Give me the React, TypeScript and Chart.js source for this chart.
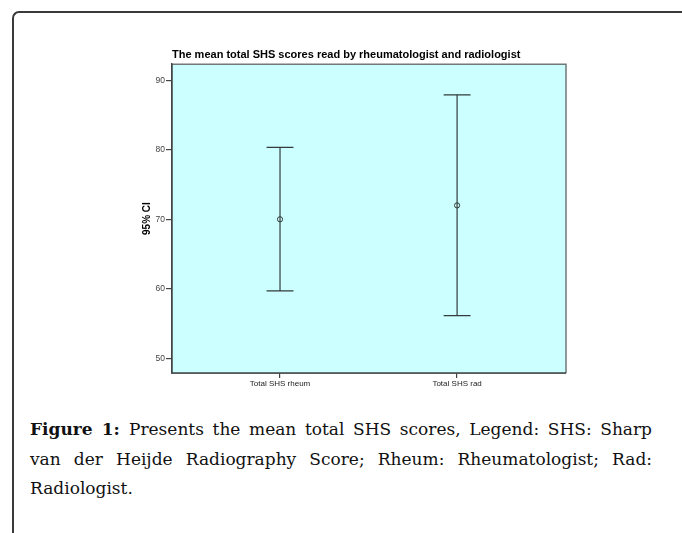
import React, { useEffect, useRef } from "react";
import { Chart, registerables } from "chart.js";

Chart.register(...registerables);

const chartTitle = "The mean total SHS scores read by rheumatologist and radiologist";
const yAxisTitle = "95% CI";
const categories = ["Total SHS rheum", "Total SHS rad"];
const means = [70.0, 72.0];
const lowerCI = [59.7, 56.15];
const upperCI = [80.35, 87.9];
const yTicks = [50, 60, 70, 80, 90];
const yMin = 47.9;
const yMax = 92.3;
const xMin = 0.39;
const xMax = 2.615;
const capHalf = 0.076;

const captionLines = [
  "Presents the mean total SHS scores, Legend: SHS: Sharp",
  "van der Heijde Radiography Score; Rheum: Rheumatologist; Rad:",
  "Radiologist.",
];

const BAR_COLOR = "#333b3b";

const plotFrame = {
  id: "plotFrame",
  beforeDatasetsDraw(chart: any) {
    const { ctx, chartArea } = chart;
    ctx.save();
    ctx.fillStyle = "#ccffff";
    ctx.fillRect(chartArea.left, chartArea.top, chartArea.right - chartArea.left, chartArea.bottom - chartArea.top);
    ctx.restore();
  },
  afterDraw(chart: any) {
    const { ctx, chartArea } = chart;
    ctx.save();
    ctx.strokeStyle = "#707878";
    ctx.lineWidth = 1.5;
    ctx.beginPath();
    ctx.moveTo(chartArea.left, chartArea.top);
    ctx.lineTo(chartArea.right, chartArea.top);
    ctx.lineTo(chartArea.right, chartArea.bottom);
    ctx.stroke();
    ctx.strokeStyle = "#404444";
    ctx.beginPath();
    ctx.moveTo(chartArea.left, chartArea.top);
    ctx.lineTo(chartArea.left, chartArea.bottom);
    ctx.lineTo(chartArea.right, chartArea.bottom);
    ctx.stroke();
    ctx.restore();
  },
};

export default function App() {
  const ref = useRef<HTMLCanvasElement | null>(null);

  useEffect(() => {
    if (!ref.current) return;
    const datasets: any[] = [];
    categories.forEach((_, i) => {
      const x = i + 1;
      datasets.push({
        data: [
          { x, y: lowerCI[i] },
          { x, y: upperCI[i] },
        ],
        borderColor: BAR_COLOR,
        borderWidth: 1.2,
        pointRadius: 0,
      });
      datasets.push({
        data: [
          { x: x - capHalf, y: upperCI[i] },
          { x: x + capHalf, y: upperCI[i] },
        ],
        borderColor: BAR_COLOR,
        borderWidth: 1.2,
        pointRadius: 0,
      });
      datasets.push({
        data: [
          { x: x - capHalf, y: lowerCI[i] },
          { x: x + capHalf, y: lowerCI[i] },
        ],
        borderColor: BAR_COLOR,
        borderWidth: 1.2,
        pointRadius: 0,
      });
      datasets.push({
        data: [{ x, y: means[i] }],
        showLine: false,
        pointRadius: 2.6,
        pointStyle: "circle",
        pointBackgroundColor: "rgba(0,0,0,0)",
        pointBorderColor: BAR_COLOR,
        pointBorderWidth: 1,
      });
    });

    const chart = new Chart(ref.current, {
      type: "line",
      data: { datasets },
      plugins: [plotFrame],
      options: {
        animation: false,
        responsive: false,
        devicePixelRatio: 1,
        layout: { padding: { left: 140, right: 116, top: 0, bottom: 0 } },
        plugins: {
          legend: { display: false },
          tooltip: { enabled: false },
          title: {
            display: true,
            text: chartTitle,
            align: "start",
            fullSize: false,
            color: "#000",
            font: { family: "Liberation Sans, Arial, sans-serif", size: 11, weight: "bold" },
            padding: { top: 48, bottom: 3 },
          },
        },
        scales: {
          x: {
            type: "linear",
            min: xMin,
            max: xMax,
            afterBuildTicks: (scale: any) => {
              scale.ticks = categories.map((_, i) => ({ value: i + 1 }));
            },
            afterFit: (scale: any) => {
              scale.height = 27;
            },
            ticks: {
              autoSkip: false,
              maxRotation: 0,
              padding: 1,
              color: "#222",
              font: { family: "Liberation Sans, Arial, sans-serif", size: 8 },
              callback: (v: any) => categories[Math.round(v) - 1] ?? "",
            },
            grid: { drawOnChartArea: false, drawTicks: true, tickLength: 5, color: "#444", lineWidth: 1.2 },
            border: { display: true, color: "#404444", width: 1.5 },
          },
          y: {
            type: "linear",
            min: yMin,
            max: yMax,
            afterBuildTicks: (scale: any) => {
              scale.ticks = yTicks.map((v) => ({ value: v }));
            },
            afterFit: (scale: any) => {
              scale.width = 32;
            },
            ticks: {
              padding: 1,
              color: "#444",
              font: { family: "Liberation Sans, Arial, sans-serif", size: 8.5 },
            },
            grid: { drawOnChartArea: false, drawTicks: true, tickLength: 6, color: "#444", lineWidth: 1.2 },
            border: { display: true, color: "#404444", width: 1.5 },
            title: {
              display: true,
              text: yAxisTitle,
              color: "#000",
              font: { family: "Liberation Sans, Arial, sans-serif", size: 10, weight: "bold" },
              padding: { top: 1, bottom: 0 },
            },
          },
        },
      },
    });
    return () => chart.destroy();
  }, []);

  return (
    <div style={{ position: "fixed", left: 0, top: 0, width: 682, height: 533, background: "#fff", overflow: "hidden" }}>
      <div
        style={{
          position: "absolute",
          left: 12,
          top: 11,
          width: 700,
          height: 560,
          borderTop: "2px solid #3a3a3a",
          borderLeft: "2px solid #3a3a3a",
          borderTopLeftRadius: 7,
        }}
      />
      <canvas ref={ref} width={682} height={400} style={{ position: "absolute", left: 0, top: 0 }} />
      <div
        style={{
          position: "absolute",
          left: 30,
          top: 415,
          width: 622,
          fontFamily: "'DejaVu Serif', serif",
          fontSize: 17,
          lineHeight: "29.5px",
          color: "#111",
        }}
      >
        {captionLines.map((line, i) => (
          <div
            key={i}
            style={{
              textAlign: "justify",
              textAlignLast: i < captionLines.length - 1 ? "justify" : "left",
              whiteSpace: "nowrap",
            }}
          >
            {i === 0 ? <b>Figure 1: </b> : null}
            {line}
          </div>
        ))}
      </div>
    </div>
  );
}
